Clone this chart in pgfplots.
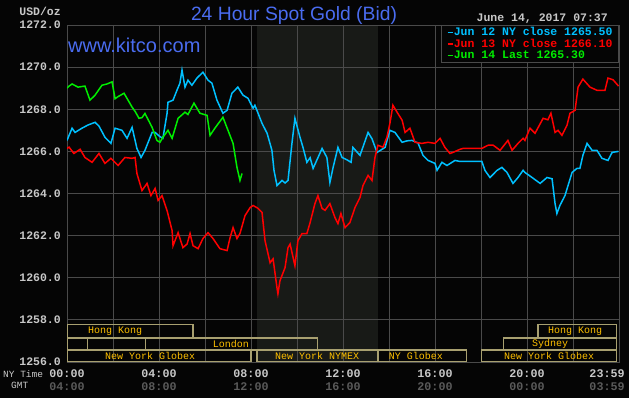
\documentclass[border=0pt]{standalone}
\usepackage{pgfplots}
\usepackage{pgfplotstable}
\pgfplotsset{compat=1.18}
\usepackage{fontspec}
\setmainfont{Liberation Sans}
\setmonofont{Liberation Mono}
\definecolor{bg}{HTML}{050505}
\definecolor{gridc}{HTML}{4A4A4A}
\definecolor{shadec}{HTML}{181A17}
\definecolor{tickc}{HTML}{C8C8C8}
\definecolor{gmtc}{HTML}{5A5A5A}
\definecolor{titlec}{HTML}{4A6CF0}
\definecolor{cyanc}{HTML}{00C0FF}
\definecolor{redc}{HTML}{FF0000}
\definecolor{greenc}{HTML}{00EE00}
\definecolor{boxc}{HTML}{A8A070}
\definecolor{goldc}{HTML}{FFC000}

\pgfplotstableread{
h v
0.00 1269.00
0.09 1269.10
0.22 1269.20
0.48 1269.05
0.78 1269.10
1.00 1268.43
1.22 1268.67
1.52 1269.14
1.74 1269.20
1.96 1269.30
2.09 1268.50
2.22 1268.60
2.48 1268.76
2.83 1268.10
2.96 1267.90
3.13 1267.57
3.26 1267.60
3.39 1267.80
3.70 1267.14
3.91 1266.52
4.04 1266.43
4.17 1266.67
4.39 1267.00
4.57 1266.62
4.83 1267.57
5.13 1267.86
5.26 1267.75
5.52 1268.29
5.78 1267.81
6.09 1267.71
6.22 1266.76
6.43 1267.10
6.78 1267.62
7.00 1267.00
7.22 1266.38
7.39 1265.24
7.52 1264.62
7.61 1264.95
}\greentab

\pgfplotstableread{
h v
0.00 1266.52
0.22 1267.10
0.35 1266.90
0.65 1267.10
0.91 1267.25
1.22 1267.38
1.39 1267.20
1.65 1266.67
1.91 1266.38
2.09 1267.10
2.39 1267.00
2.61 1266.62
2.83 1267.14
3.04 1266.14
3.22 1265.71
3.39 1266.05
3.70 1266.90
3.83 1266.90
4.04 1266.70
4.17 1266.62
4.35 1267.80
4.39 1268.33
4.61 1268.43
4.78 1268.90
4.91 1269.24
5.00 1269.86
5.13 1269.05
5.26 1269.38
5.43 1269.14
5.65 1269.48
5.91 1269.76
6.13 1269.38
6.30 1269.24
6.52 1268.43
6.78 1267.81
6.96 1267.95
7.17 1268.76
7.43 1269.05
7.65 1268.67
7.87 1268.52
8.09 1268.05
8.17 1268.19
8.48 1267.33
8.70 1266.86
8.91 1266.05
9.00 1265.10
9.13 1264.38
9.35 1264.62
9.48 1264.50
9.61 1264.62
9.78 1266.38
9.91 1267.57
10.13 1266.67
10.26 1266.19
10.43 1265.48
10.57 1265.70
10.70 1265.19
10.91 1265.70
11.09 1266.14
11.30 1265.71
11.43 1264.52
11.57 1265.24
11.78 1266.19
11.96 1265.71
12.17 1265.60
12.35 1265.48
12.43 1266.19
12.74 1265.81
13.09 1266.90
13.26 1266.60
13.48 1265.95
13.83 1266.19
14.04 1267.00
14.26 1266.90
14.57 1266.43
14.78 1266.50
15.00 1266.52
15.26 1266.40
15.48 1265.81
15.70 1265.57
16.00 1265.43
16.09 1265.10
16.30 1265.48
16.52 1265.33
16.87 1265.57
17.09 1265.52
18.04 1265.52
18.17 1265.10
18.39 1264.76
18.70 1265.10
18.91 1265.24
19.13 1265.00
19.39 1264.48
19.61 1264.76
19.83 1265.10
19.91 1265.00
20.22 1264.76
20.57 1264.48
20.87 1264.76
21.09 1264.70
21.22 1263.52
21.30 1263.05
21.43 1263.43
21.65 1263.90
21.96 1265.00
22.17 1265.19
22.30 1265.19
22.43 1265.81
22.61 1266.38
22.83 1266.05
23.04 1266.05
23.26 1265.67
23.52 1265.57
23.70 1265.95
23.98 1266.00
}\cyantab

\pgfplotstableread{
h v
0.00 1266.14
0.09 1266.20
0.30 1265.90
0.57 1266.10
0.78 1265.71
1.09 1265.48
1.39 1265.90
1.65 1265.43
1.91 1265.67
2.22 1265.33
2.52 1265.71
2.83 1265.67
2.96 1265.71
3.04 1264.95
3.26 1264.14
3.48 1264.48
3.65 1263.90
3.83 1264.24
3.96 1263.67
4.13 1263.90
4.35 1263.19
4.57 1262.24
4.61 1261.52
4.83 1262.14
5.04 1261.43
5.22 1261.60
5.35 1262.10
5.48 1261.52
5.70 1261.38
5.91 1261.86
6.13 1262.14
6.35 1261.86
6.65 1261.38
6.96 1261.29
7.09 1261.90
7.22 1262.38
7.39 1261.86
7.52 1262.10
7.74 1262.95
7.96 1263.33
8.09 1263.43
8.30 1263.30
8.48 1263.10
8.61 1261.76
8.83 1260.71
8.96 1260.90
9.13 1259.52
9.17 1259.24
9.26 1259.86
9.48 1260.48
9.61 1261.43
9.70 1261.60
9.91 1260.57
10.04 1261.76
10.22 1262.10
10.43 1262.10
10.57 1262.62
10.78 1263.52
10.91 1263.90
11.09 1263.29
11.22 1263.20
11.43 1263.52
11.65 1262.86
11.78 1262.57
11.91 1263.05
12.09 1262.38
12.30 1262.62
12.52 1263.33
12.74 1263.81
12.87 1264.38
13.09 1264.86
13.26 1264.62
13.39 1265.71
13.52 1266.29
13.74 1266.20
13.91 1266.67
14.04 1267.33
14.17 1268.19
14.35 1267.86
14.57 1267.48
14.70 1266.90
14.91 1267.10
15.13 1266.43
15.43 1266.38
15.70 1266.43
16.00 1266.38
16.22 1266.62
16.43 1266.19
16.65 1265.90
16.78 1265.95
17.09 1266.10
17.22 1266.14
18.04 1266.14
18.30 1266.29
18.52 1266.30
18.83 1266.05
19.17 1266.52
19.35 1266.05
19.61 1266.38
19.83 1266.62
19.91 1266.52
20.13 1267.10
20.35 1266.86
20.70 1267.57
20.91 1267.50
21.04 1267.81
21.22 1266.90
21.35 1267.00
21.52 1266.76
21.74 1267.24
21.87 1267.81
22.09 1267.95
22.22 1269.05
22.43 1269.43
22.74 1269.05
23.04 1268.90
23.39 1268.90
23.52 1269.48
23.74 1269.40
23.98 1269.10
}\redtab

\begin{document}
\begin{tikzpicture}
\fill[bg] (0pt,0pt) rectangle (629pt,398pt);
\begin{axis}[
  at={(67pt,36pt)}, anchor=south west,
  scale only axis, width=552pt, height=337pt,
  xmin=0, xmax=24, ymin=1256, ymax=1272,
  axis background/.style={fill=bg},
  axis line style={draw=gridc, line width=0.9pt},
  xmajorgrids, ymajorgrids,
  grid style={draw=gridc, line width=0.9pt},
  major tick length=0pt,
  xtick={0,2,...,22},
  xticklabels={{\color{tickc}00:00\\\color{gmtc}04:00},{},{\color{tickc}04:00\\\color{gmtc}08:00},{},{\color{tickc}08:00\\\color{gmtc}12:00},{},{\color{tickc}12:00\\\color{gmtc}16:00},{},{\color{tickc}16:00\\\color{gmtc}20:00},{},{\color{tickc}20:00\\\color{gmtc}00:00},{}},
  extra x ticks={23.48},
  extra x tick labels={{\color{tickc}23:59\\\color{gmtc}03:59}},
  extra x tick style={grid=none, major tick length=0pt},
  xticklabel style={font=\fontsize{11.7}{13}\selectfont\ttfamily\bfseries, align=center, inner sep=0pt, anchor=north, yshift=-7.3pt},
  ytick={1256,1258,...,1272},
  yticklabels={1256.0,1258.0,1260.0,1262.0,1264.0,1266.0,1268.0,1270.0,1272.0},
  yticklabel style={font=\fontsize{11.5}{12}\selectfont\ttfamily\bfseries, text=tickc, inner sep=0pt, anchor=east, xshift=-6pt},
  legend style={at={(rel axis cs:1,1)}, anchor=north east, fill=bg, draw=gridc, line width=0.9pt,
    font=\fontsize{11.5}{11.5}\selectfont\ttfamily\bfseries, inner xsep=5.5pt, inner ysep=1.5pt,
    nodes={inner sep=0.5pt, text height=8.5pt, text depth=2pt}, row sep=0pt},
  legend cell align=left,
  legend image code/.code={\draw[#1, line width=1.5pt] (0pt,0pt) -- (5pt,0pt);},
]
% NYMEX pit session shading, with the grid redrawn over it
\fill[shadec] (axis cs:8.26,1256) rectangle (axis cs:13.52,1272);
\draw[gridc, line width=0.9pt] (axis cs:10,1256) -- (axis cs:10,1272);
\draw[gridc, line width=0.9pt] (axis cs:12,1256) -- (axis cs:12,1272);
\draw[gridc, line width=0.9pt] (axis cs:8.26,1258) -- (axis cs:13.52,1258);
\draw[gridc, line width=0.9pt] (axis cs:8.26,1260) -- (axis cs:13.52,1260);
\draw[gridc, line width=0.9pt] (axis cs:8.26,1262) -- (axis cs:13.52,1262);
\draw[gridc, line width=0.9pt] (axis cs:8.26,1264) -- (axis cs:13.52,1264);
\draw[gridc, line width=0.9pt] (axis cs:8.26,1266) -- (axis cs:13.52,1266);
\draw[gridc, line width=0.9pt] (axis cs:8.26,1268) -- (axis cs:13.52,1268);
\draw[gridc, line width=0.9pt] (axis cs:8.26,1270) -- (axis cs:13.52,1270);
\draw[gridc, line width=0.9pt] (axis cs:8.26,1272) -- (axis cs:13.52,1272);
\addplot[cyanc, line width=1.5pt] table[x=h,y=v] {\cyantab};
\addlegendentry{\textcolor{cyanc}{Jun 12 NY close 1265.50}}
\addplot[redc, line width=1.5pt] table[x=h,y=v] {\redtab};
\addlegendentry{\textcolor{redc}{Jun 13 NY close 1266.10}}
\addplot[greenc, line width=1.5pt] table[x=h,y=v] {\greentab};
\addlegendentry{\textcolor{greenc}{Jun 14 Last 1265.30}}
% market session boxes
\draw[boxc, line width=1.1pt] (axis cs:0,1257.14) rectangle (axis cs:5.48,1257.76);
\draw[boxc, line width=1.1pt] (axis cs:20.48,1257.14) rectangle (axis cs:23.91,1257.76);
\draw[boxc, line width=1.1pt] (axis cs:0,1256.57) rectangle (axis cs:0.91,1257.14);
\draw[boxc, line width=1.1pt] (axis cs:3.43,1256.57) rectangle (axis cs:10.91,1257.14);
\draw[boxc, line width=1.1pt] (axis cs:18.96,1256.57) rectangle (axis cs:23.91,1257.14);
\draw[boxc, line width=1.1pt] (axis cs:0,1256) rectangle (axis cs:8.0,1256.57);
\draw[boxc, line width=1.1pt] (axis cs:8.26,1256) rectangle (axis cs:13.52,1256.57);
\draw[boxc, line width=1.1pt] (axis cs:13.52,1256) rectangle (axis cs:17.35,1256.57);
\draw[boxc, line width=1.1pt] (axis cs:18.04,1256) rectangle (axis cs:23.91,1256.57);
\begin{scope}[every node/.style={font=\fontsize{10}{10}\selectfont\ttfamily, text=goldc, inner sep=0pt}]
\node at (axis cs:2.09,1257.45) {Hong Kong};
\node at (axis cs:22.09,1257.45) {Hong Kong};
\node at (axis cs:7.13,1256.86) {London};
\node at (axis cs:21.0,1256.86) {Sydney};
\node at (axis cs:3.61,1256.28) {New York Globex};
\node at (axis cs:10.87,1256.28) {New York NYMEX};
\node at (axis cs:15.17,1256.28) {NY Globex};
\node at (axis cs:20.96,1256.28) {New York Globex};
\end{scope}
\end{axis}
\node[anchor=base, text=titlec, font=\fontsize{19.3}{19}\selectfont, inner sep=0pt] at (294pt,377pt) {24 Hour Spot Gold (Bid)};
\node[anchor=base west, text=titlec, font=\fontsize{20}{20}\selectfont, inner sep=0pt] at (68pt,345pt) {www.kitco.com};
\node[anchor=base east, text=tickc, font=\fontsize{11.5}{12}\selectfont\ttfamily\bfseries, inner sep=0pt] at (608pt,376.5pt) {June 14, 2017 07:37};
\node[anchor=base east, text=tickc, font=\fontsize{11.5}{12}\selectfont\ttfamily\bfseries, inner sep=0pt] at (61pt,382pt) {USD/oz};
\node[anchor=base west, text=tickc, font=\fontsize{9.5}{10}\selectfont\ttfamily, inner sep=0pt] at (3pt,20pt) {NY Time};
\node[anchor=base west, text=tickc, font=\fontsize{9.5}{10}\selectfont\ttfamily, inner sep=0pt] at (11pt,9pt) {GMT};
\pgfresetboundingbox
\path[use as bounding box] (0pt,0pt) rectangle (629pt,398pt);
\end{tikzpicture}
\end{document}
